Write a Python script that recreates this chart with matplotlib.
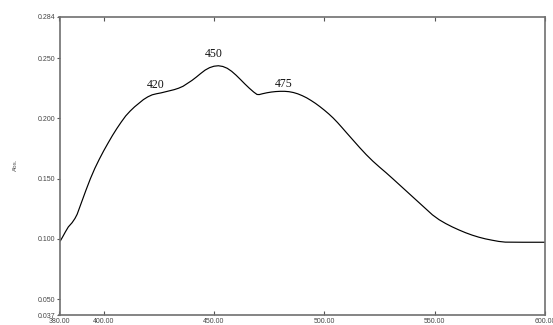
import matplotlib
matplotlib.use("Agg")
import matplotlib.pyplot as plt

# Absorption spectrum (wavelength in nm, absorbance)
wavelength = [380.4, 381.5, 382.7, 384.0, 385.7, 387.0, 388.0, 389.0, 390.0,
              392.0, 394.0, 396.0, 398.0, 400.0, 402.0, 404.0, 406.0, 408.0,
              410.0, 412.0, 414.0, 416.0, 418.0, 420.0, 422.0, 424.0, 426.0,
              428.0, 430.0, 432.0, 434.0, 436.0, 438.0, 440.0, 442.0, 444.0,
              446.0, 448.0, 450.0, 452.0, 454.0, 456.0, 458.0, 460.0, 462.0,
              464.0, 466.0, 468.0, 469.5, 470.5, 472.0, 474.0, 476.0, 478.0,
              480.0, 482.0, 484.0, 486.0, 488.0, 490.0, 492.0, 494.0, 496.0,
              498.0, 500.0, 502.0, 504.0, 506.0, 508.0, 510.0, 513.0, 516.0,
              519.0, 522.0, 525.0, 528.0, 531.0, 534.0, 537.0, 540.0, 543.0,
              546.0, 549.0, 552.0, 555.0, 558.0, 561.0, 564.0, 567.0, 570.0,
              573.0, 576.0, 579.0, 582.0, 590.0, 600.0]
absorbance = [0.0985, 0.1020, 0.1060, 0.1100, 0.1135, 0.1170, 0.1205, 0.1255,
              0.1305, 0.1405, 0.1500, 0.1585, 0.1660, 0.1730, 0.1795, 0.1858,
              0.1916, 0.1970, 0.2020, 0.2060, 0.2095, 0.2125, 0.2155, 0.2178,
              0.2195, 0.2204, 0.2211, 0.2220, 0.2229, 0.2238, 0.2250, 0.2266,
              0.2290, 0.2314, 0.2342, 0.2372, 0.2400, 0.2420, 0.2432, 0.2436,
              0.2430, 0.2415, 0.2390, 0.2358, 0.2322, 0.2285, 0.2250, 0.2218,
              0.2198, 0.2197, 0.2204, 0.2212, 0.2218, 0.2222, 0.2224, 0.2224,
              0.2221, 0.2214, 0.2203, 0.2188, 0.2170, 0.2148, 0.2124, 0.2097,
              0.2068, 0.2037, 0.2003, 0.1965, 0.1924, 0.1882, 0.1820, 0.1758,
              0.1699, 0.1645, 0.1596, 0.1549, 0.1500, 0.1450, 0.1400, 0.1350,
              0.1300, 0.1250, 0.1200, 0.1160, 0.1128, 0.1100, 0.1075, 0.1052,
              0.1032, 0.1015, 0.1001, 0.0990, 0.0980, 0.0974, 0.0973, 0.0973]

peak_labels = ["420", "450", "475"]
peak_label_x = [423.5, 449.9, 481.6]
peak_label_y = [0.2280, 0.2533, 0.2284]

x_ticks = [380, 400, 450, 500, 550, 600]
y_ticks = [0.037, 0.050, 0.100, 0.150, 0.200, 0.250, 0.284]

fig = plt.figure(figsize=(5.53, 3.25), dpi=100)
ax = fig.add_axes([59.5 / 553, 10 / 325, 485.5 / 553, 298 / 325])

ax.plot(wavelength, absorbance, color="black", linewidth=0.85)

for lab, lx, ly in zip(peak_labels, peak_label_x, peak_label_y):
    ax.text(lx, ly, lab, ha="center", va="center", fontsize=8.5,
            family="Liberation Serif", color="#111111")

ax.set_xlim(380, 600)
ax.set_ylim(0.037, 0.284)
ax.set_xticks(x_ticks)
ax.set_xticklabels([f"{v:.2f}" for v in x_ticks])
ax.set_yticks(y_ticks)
ax.set_yticklabels([f"{v:.3f}" for v in y_ticks])

for s in ax.spines.values():
    s.set_color("#707070")
    s.set_linewidth(1.2)

ax.tick_params(axis="x", direction="in", length=3, width=0.8, color="#555555",
               labelsize=5, labelcolor="#444444", pad=2, top=True)
ax.tick_params(axis="y", direction="out", length=2, width=0.8, color="#555555",
               labelsize=5, labelcolor="#444444", pad=1)
for lab in ax.get_xticklabels() + ax.get_yticklabels():
    lab.set_family("Liberation Sans")

fig.text(15 / 553, 1 - 165 / 325, "Abs.", rotation=90, fontsize=4.5,
         family="Liberation Sans", color="#555555", ha="center", va="center")

fig.savefig("out.png", dpi=100)
